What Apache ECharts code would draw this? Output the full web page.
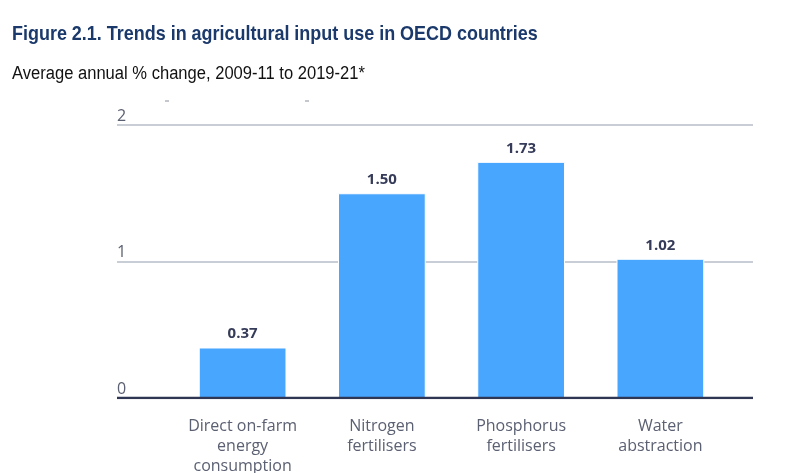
<!DOCTYPE html>
<html><head><meta charset="utf-8">
<script src="https://cdn.jsdelivr.net/npm/echarts@6/dist/echarts.min.js"></script>
<style>html,body{margin:0;padding:0;background:#fff}#c{width:800px;height:473px}</style>
</head><body><div id="c"></div>
<script>
var categories = ['Direct on-farm\nenergy\nconsumption', 'Nitrogen\nfertilisers', 'Phosphorus\nfertilisers', 'Water\nabstraction'];
var values = [0.37, 1.50, 1.73, 1.02];
var yTicks = [0, 1, 2];
var titleText = 'Figure 2.1. Trends in agricultural input use in OECD countries';
var subtitleText = 'Average annual % change, 2009-11 to 2019-21*';

var chart = echarts.init(document.getElementById('c'));
var gridTop = 125, gridBottom = 473 - 398;
chart.setOption({
  animation: false,
  grid: [
    {left: 173, right: 800 - 730, top: gridTop, bottom: gridBottom, containLabel: false, outerBoundsMode: 'none'},
    {left: 117, right: 800 - 753, top: gridTop, bottom: gridBottom, containLabel: false, outerBoundsMode: 'none'}
  ],
  xAxis: [{
    type: 'category', gridIndex: 0, data: categories,
    axisLine: {show: false}, axisTick: {show: false},
    axisLabel: {fontFamily: '"Open Sans", "Noto Sans", sans-serif', fontSize: 16, color: '#5b6072', lineHeight: 20, margin: 18, interval: 0}
  }, {
    type: 'value', gridIndex: 1, min: 0, max: 1, show: true,
    axisLine: {show: false}, axisTick: {show: false}, axisLabel: {show: false}, splitLine: {show: false}
  }],
  yAxis: [{
    type: 'value', gridIndex: 0, min: yTicks[0], max: yTicks[yTicks.length - 1], interval: 1,
    show: false
  }, {
    type: 'value', gridIndex: 1, min: yTicks[0], max: yTicks[yTicks.length - 1], interval: 1,
    axisLine: {show: false}, axisTick: {show: false},
    axisLabel: {inside: true, margin: 0, verticalAlign: 'bottom', align: 'left', padding: [0, 0, 1, 0],
      fontFamily: '"Open Sans", "Noto Sans", sans-serif', fontSize: 16, color: '#5b6072'},
    splitLine: {show: true, lineStyle: {color: '#c9cdd6', width: 2}}
  }],
  series: [{
    type: 'bar', xAxisIndex: 0, yAxisIndex: 0, data: values, z: 3,
    barCategoryGap: '37%',
    itemStyle: {color: '#48a6ff', borderColor: '#ffffff', borderWidth: 1},
    label: {show: true, position: 'top', distance: 6, formatter: function (p) { return p.value.toFixed(2); },
      fontFamily: '"Open Sans", "Noto Sans", sans-serif', fontWeight: 'bold', fontSize: 15, color: '#353b58'}
  }, {
    type: 'line', xAxisIndex: 1, yAxisIndex: 1, data: [[0, 0], [1, 0]], symbol: 'none', silent: true, z: 4,
    lineStyle: {color: '#2f3654', width: 2.5}
  }],
  graphic: [
    {type: 'text', left: 12, top: 24, scaleX: 0.855, originX: 12,
      style: {text: titleText, font: 'bold 21px "Liberation Sans", Arial, sans-serif', fill: '#1b3a6b'}},
    {type: 'text', left: 12, top: 65, scaleX: 0.92, originX: 12,
      style: {text: subtitleText, font: '18px "Liberation Sans", Arial, sans-serif', fill: '#111'}},
    {type: 'line', shape: {x1: 165, y1: 101, x2: 169, y2: 101}, style: {stroke: '#8a8f9c', lineWidth: 1}},
    {type: 'line', shape: {x1: 305, y1: 101, x2: 309, y2: 101}, style: {stroke: '#8a8f9c', lineWidth: 1}}
  ]
});
</script></body></html>
